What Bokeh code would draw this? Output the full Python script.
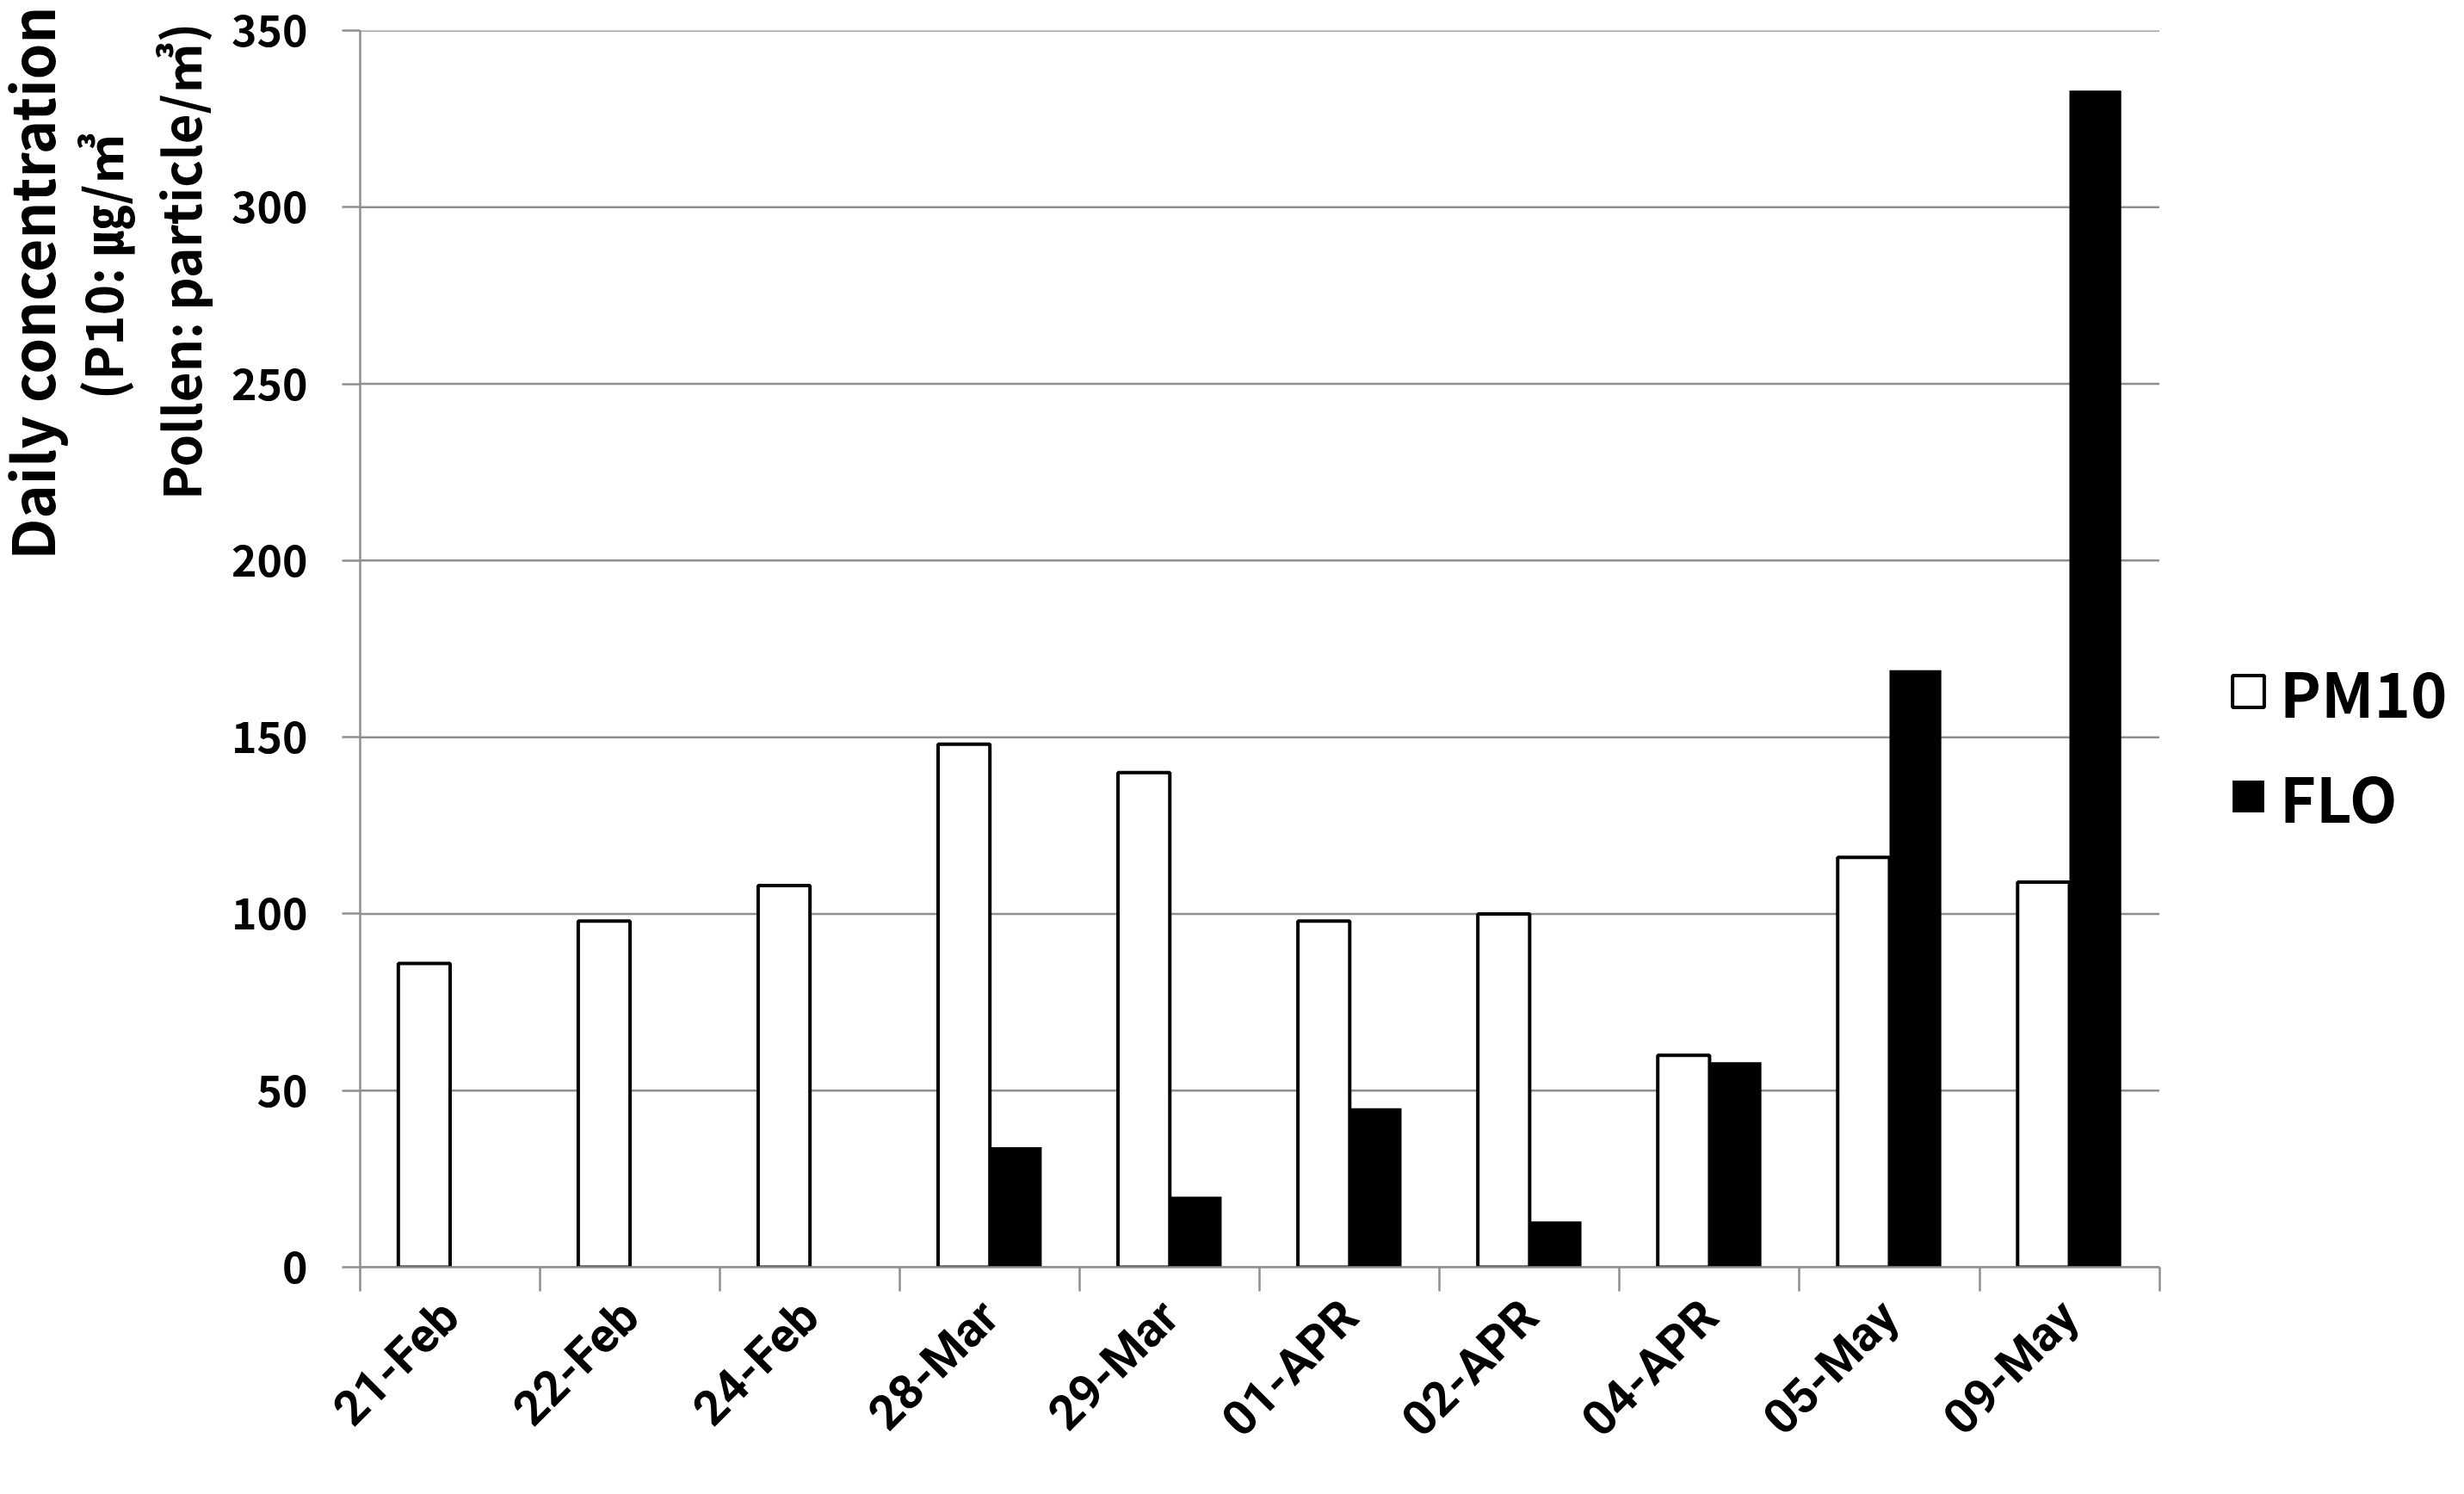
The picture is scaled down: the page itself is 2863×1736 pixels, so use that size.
import math
from bokeh.plotting import figure
from bokeh.models import (Range1d, FixedTicker, Legend, LegendItem, Title,
                          ColumnDataSource)
from bokeh.transform import dodge
from bokeh.embed import file_html
from bokeh.resources import INLINE

# ---- data ----
dates = ["21-Feb", "22-Feb", "24-Feb", "28-Mar", "29-Mar",
         "01-APR", "02-APR", "04-APR", "05-May", "09-May"]
pm10 = [86, 98, 108, 148, 140, 98, 100, 60, 116, 109]
flo = [0, 0, 0, 34, 20, 45, 13, 58, 169, 333]
y_ticks = [0, 50, 100, 150, 200, 250, 300, 350]
series_names = ["PM10", "FLO"]
y_title_lines = ["Daily concentration", "(P10: ㎍/㎥", "Pollen: particle/㎥)"]

FONT = "Noto Sans CJK KR"
XFONT = "Roboto"
GRAY = "#8f8f8f"

# ---- layout (pixels) ----
FIG_W, FIG_H = 2847, 1720
LEFT, TOP, BOTTOM = 414, 35, 248
BARS_W = 2094                    # width taken by the bar area
FRAME_W = FIG_W - LEFT           # frame reaches the right edge (legend lives there)

n = len(dates)
centers = [i + 0.5 for i in range(n)]
bounds = list(range(n + 1))
x_end = n * FRAME_W / BARS_W

source = ColumnDataSource(dict(x=centers, pm10=pm10, flo=flo))
grid_src = ColumnDataSource(dict(y=y_ticks, x0=[0] * len(y_ticks),
                                 x1=[n] * len(y_ticks)))

p = figure(width=FIG_W, height=FIG_H,
           x_range=Range1d(0, x_end), y_range=Range1d(0, 350),
           output_backend="svg", toolbar_location=None,
           min_border_left=LEFT, min_border_right=0,
           min_border_top=TOP, min_border_bottom=BOTTOM)
p.outline_line_color = None
p.background_fill_color = "white"
p.border_fill_color = "white"
p.xgrid.visible = False
p.ygrid.visible = False

# horizontal grid lines limited to the bar area
p.segment(x0="x0", x1="x1", y0="y", y1="y", source=grid_src,
          line_color=GRAY, line_width=2.5, level="underlay")

bw = 0.288
r1 = p.vbar(x=dodge("x", -bw / 2), top="pm10", width=bw, source=source,
            fill_color="white", line_color="black", line_width=4)
r2 = p.vbar(x=dodge("x", bw / 2), top="flo", width=bw, source=source,
            fill_color="black", line_color=None)

# x axis
xa = p.xaxis[0]
xa.bounds = (0, n)
xa.ticker = FixedTicker(ticks=centers, minor_ticks=bounds)
xa.major_label_overrides = {c: d for c, d in zip(centers, dates)}
xa.major_label_orientation = math.pi / 4
xa.major_tick_line_color = None
xa.major_tick_out = 0
xa.major_tick_in = 0
xa.minor_tick_line_color = GRAY
xa.minor_tick_line_width = 2.5
xa.minor_tick_out = 28
xa.minor_tick_in = 0
xa.axis_line_color = GRAY
xa.axis_line_width = 2.5
xa.major_label_standoff = 20
xa.major_label_text_font = XFONT
xa.major_label_text_font_style = "bold"
xa.major_label_text_font_size = "56px"
xa.major_label_text_color = "black"

# y axis
ya = p.yaxis[0]
ya.ticker = FixedTicker(ticks=y_ticks)
ya.major_tick_line_color = GRAY
ya.major_tick_line_width = 2.5
ya.major_tick_out = 21
ya.major_tick_in = 0
ya.minor_tick_line_color = None
ya.axis_line_color = GRAY
ya.axis_line_width = 2.5
ya.major_label_standoff = 40
ya.major_label_text_font = FONT
ya.major_label_text_font_style = "bold"
ya.major_label_text_font_size = "50px"
ya.major_label_text_color = "black"
# a blank axis label only used as a spacer before the title lines
ya.axis_label = " "
ya.axis_label_text_font_size = "1px"
ya.axis_label_standoff = 14

# y-axis title: three vertical lines (nearest the axis first)
title_specs = [(y_title_lines[2], -9, -6, "60px"),
               (y_title_lines[1], 119, 10, "60px"),
               (y_title_lines[0], -28, -34, "67px")]
for txt, off, so, fs in title_specs:
    p.add_layout(Title(text=txt, align="right", offset=off, standoff=so,
                       text_font=FONT, text_font_style="bold",
                       text_font_size=fs, text_color="black"), "left")

legend = Legend(items=[LegendItem(label=series_names[0], renderers=[r1]),
                       LegendItem(label=series_names[1], renderers=[r2])],
                location=(2171, 495), orientation="vertical",
                glyph_width=46, glyph_height=46,
                label_text_font=FONT, label_text_font_style="bold",
                label_text_font_size="72px", label_text_color="black",
                label_standoff=14, spacing=17, padding=0, margin=0,
                border_line_color=None, background_fill_alpha=0)
p.add_layout(legend, "center")

open("out.html", "w").write(file_html(p, INLINE))
